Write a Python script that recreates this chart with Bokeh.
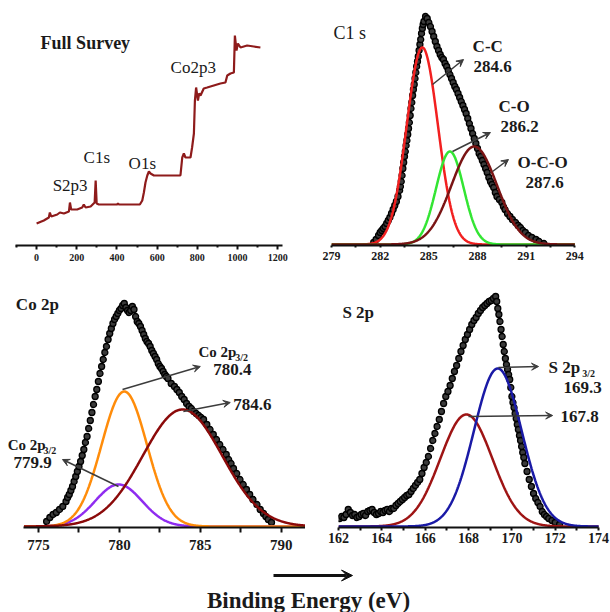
import numpy as np
from bokeh.plotting import figure
from bokeh.layouts import column, row
from bokeh.models import Label, Arrow, VeeHead, FixedTicker
from bokeh.embed import file_html
from bokeh.resources import INLINE

SERIF = "Liberation Serif"

# ---------------- data ----------------
# Full survey (binding energy eV, intensity a.u.)
survey_ev = [0, 12, 36, 61, 66, 73, 103, 116, 136, 161, 166, 172, 202, 227, 235, 244, 269, 289, 294, 299,
             310, 401, 405, 410, 514, 526, 534, 542, 551, 559, 567, 584, 716, 725, 733, 741, 766, 774, 783,
             788, 794, 803, 809, 816, 832, 849, 882, 915, 940, 949, 965, 982, 987, 995, 1002, 1015, 1048,
             1081, 1114]
survey_int = [22, 23, 25, 28, 33, 29, 31, 33, 32, 34, 43, 36, 36, 38, 41, 38, 39, 43, 65, 42,
              41, 41, 42, 41, 41, 45, 53, 63, 70, 74, 72, 70, 70, 88, 92, 88, 88, 98, 112,
              145, 158, 145, 152, 150, 157, 158, 160, 162, 163, 170, 172, 173, 210, 195, 202, 198, 200,
              199, 198]
survey_peak_names = ["S2p3", "C1s", "O1s", "Co2p3"]

# C 1s high resolution
c1s_ev = [281.6, 281.75, 281.9, 282.0, 282.1, 282.2, 282.3, 282.4, 282.5, 282.6, 282.7, 282.8, 282.9, 283.0,
          283.1, 283.2, 283.25, 283.3, 283.35, 283.4, 283.45, 283.5, 283.55, 283.6, 283.65, 283.7, 283.75,
          283.8, 283.85, 283.9, 283.95, 284.0, 284.05, 284.1, 284.15, 284.2, 284.25, 284.3, 284.35, 284.4,
          284.45, 284.5, 284.55, 284.6, 284.65, 284.7, 284.8, 284.9, 285.0, 285.1, 285.2, 285.3, 285.4,
          285.5, 285.6, 285.7, 285.8, 285.9, 286.0, 286.1, 286.2, 286.3, 286.4, 286.5, 286.6, 286.7, 286.8,
          286.9, 287.0, 287.1, 287.2, 287.3, 287.4, 287.5, 287.6, 287.7, 287.8, 287.9, 288.0, 288.1, 288.2,
          288.3, 288.4, 288.5, 288.6, 288.7, 288.8, 288.9, 289.0, 289.1, 289.2, 289.35, 289.5, 289.6,
          289.7, 289.85, 290.0, 290.15, 290.35, 290.5, 290.65, 290.8, 290.95, 291.15, 291.35, 291.6,
          291.8, 292.1]
c1s_int = [2, 5, 9, 12, 14, 16, 18, 21, 24, 27, 31, 35, 39, 43,
           48, 54, 58, 63, 69, 76, 82, 88, 93, 99, 104, 110, 116,
           122, 129, 136, 142, 149, 155, 160, 166, 172, 178, 183, 188, 194,
           200, 205, 211, 216, 220, 223, 228, 226, 222, 218, 213, 208, 203,
           198, 194, 190, 187, 185, 181, 178, 174, 170, 166, 162, 158, 155, 151,
           147, 143, 139, 135, 131, 126, 121, 116, 111, 106, 101, 96, 91, 88,
           84, 80, 76, 72, 67, 63, 60, 57, 52, 48, 45, 42, 38,
           35, 31, 28, 25, 22, 19, 17, 14, 12, 9, 7, 5,
           3, 1]
c1s_labels = ["C-C", "C-O", "O-C-O"]
c1s_centers = [284.6, 286.3, 287.8]
c1s_heights = [197, 93, 98]
c1s_sigmas = [0.96, 0.85, 1.4]
c1s_colors = ["#f22020", "#33e533", "#7a1414"]

# Co 2p high resolution
co_ev = [775.5, 775.7, 775.9, 776.1, 776.3, 776.5, 776.7, 776.8, 776.9, 777.0, 777.1, 777.2, 777.3, 777.4,
         777.5, 777.6, 777.7, 777.8, 777.9, 778.0, 778.1, 778.2, 778.3, 778.4, 778.5, 778.6, 778.7, 778.8,
         778.9, 779.0, 779.1, 779.2, 779.3, 779.4, 779.5, 779.6, 779.7, 779.8, 779.9, 780.0, 780.1, 780.2,
         780.3, 780.4, 780.5, 780.6, 780.7, 780.8, 780.9, 781.0, 781.1, 781.2, 781.3, 781.4, 781.5, 781.6,
         781.7, 781.8, 781.9, 782.0, 782.1, 782.2, 782.3, 782.4, 782.5, 782.6, 782.7, 782.8, 782.9, 783.0,
         783.2, 783.4, 783.55, 783.7, 783.85, 784.0, 784.15, 784.3, 784.45, 784.6, 784.75, 784.9, 785.05,
         785.2, 785.4, 785.6, 785.8, 786.0, 786.2, 786.4, 786.6, 786.75, 786.9, 787.05, 787.25, 787.45,
         787.65, 787.85, 788.05, 788.25, 788.5, 788.7, 788.9, 789.05, 789.2, 789.4]
co_int = [5, 9, 12, 14, 17, 20, 25, 29, 32, 36, 40, 45, 50, 55,
          60, 65, 71, 77, 84, 90, 98, 106, 114, 122, 130, 137, 145, 153,
          160, 167, 174, 180, 187, 193, 198, 203, 207, 210, 213, 216, 218, 221,
          223, 219, 216, 214, 216, 220, 217, 210, 205, 203, 200, 196, 192, 188,
          185, 183, 180, 176, 173, 170, 167, 163, 160, 158, 155, 152, 150, 148,
          143, 140, 137, 134, 130, 127, 123, 120, 118, 115, 113, 111, 109,
          107, 102, 97, 92, 87, 82, 77, 72, 67, 63, 58, 53, 47,
          42, 37, 32, 27, 22, 17, 13, 10, 7, 4]
co_centers = [779.95, 780.3, 783.9]
co_heights = [42, 135, 117]
co_sigmas = [1.45, 1.4, 2.45]
co_colors = ["#8f2cf0", "#ff8c0a", "#8b0a0a"]

# S 2p high resolution
s_ev = [162.05, 162.15, 162.25, 162.35, 162.45, 162.55, 162.65, 162.75, 162.85, 162.95, 163.05, 163.15,
        163.25, 163.35, 163.45, 163.55, 163.65, 163.75, 163.85, 163.95, 164.05, 164.15, 164.25, 164.35,
        164.45, 164.55, 164.65, 164.75, 164.85, 164.95, 165.05, 165.15, 165.25, 165.35, 165.45, 165.55,
        165.65, 165.75, 165.85, 165.95, 166.05, 166.15, 166.25, 166.35, 166.45, 166.55, 166.65, 166.75,
        166.85, 166.95, 167.05, 167.15, 167.25, 167.35, 167.45, 167.55, 167.65, 167.75, 167.85, 167.95,
        168.05, 168.15, 168.25, 168.35, 168.45, 168.55, 168.65, 168.75, 168.85, 168.95, 169.05, 169.15,
        169.25, 169.3, 169.35, 169.4, 169.45, 169.5, 169.55, 169.6, 169.65, 169.7, 169.75, 169.8, 169.85,
        169.9, 169.95, 170.0, 170.05, 170.1, 170.15, 170.2, 170.25, 170.3, 170.35, 170.4, 170.45, 170.5,
        170.55, 170.6, 170.7, 170.8, 170.9, 171.0, 171.1, 171.2, 171.3, 171.4, 171.5, 171.6, 171.7,
        171.85, 172.0, 172.2]
s_int = [8, 10, 9, 12, 17, 14, 11, 12, 9, 10, 12, 13,
         11, 15, 16, 17, 14, 12, 13, 15, 14, 16, 17, 15,
         18, 18, 21, 23, 25, 27, 29, 31, 32, 35, 38, 41,
         44, 47, 53, 59, 64, 70, 78, 86, 93, 100, 107, 115,
         123, 130, 135, 141, 148, 155, 161, 168, 175, 181, 187, 192,
         197, 202, 206, 209, 213, 216, 219, 221, 223, 225, 226, 228,
         230, 225, 218, 212, 205, 197, 190, 182, 175, 168, 162, 157, 152,
         147, 139, 130, 124, 119, 113, 108, 102, 97, 91, 86, 80, 74,
         69, 63, 55, 47, 40, 33, 28, 24, 20, 15, 12, 10, 8,
         6, 4, 2]
s_centers = [167.9, 169.35]
s_heights = [112, 158]
s_sigmas = [1.2, 1.1]
s_colors = ["#9e1414", "#1a1aa6"]


# ---------------- helpers ----------------
def gauss(x, c, a, s):
    return a * np.exp(-(x - c) ** 2 / (2.0 * s ** 2))


def make_fig(w, h, xr, yr, left, right, bottom, majors, minors, lab_size,
             tick_out, minor_out, standoff, bounds="auto"):
    p = figure(width=w, height=h, x_range=xr, y_range=yr, output_backend="svg",
               toolbar_location=None, y_axis_location=None, title=None,
               min_border_left=left, min_border_right=right, min_border_top=0,
               min_border_bottom=bottom)
    p.grid.visible = False
    p.outline_line_color = None
    p.background_fill_color = "white"
    p.border_fill_color = "white"
    ax = p.xaxis[0]
    ax.bounds = bounds
    ax.ticker = FixedTicker(ticks=majors, minor_ticks=minors)
    ax.axis_line_width = 2
    ax.axis_line_color = "#111111"
    ax.major_tick_line_width = 2
    ax.minor_tick_line_width = 2
    ax.major_tick_line_color = "#111111"
    ax.minor_tick_line_color = "#111111"
    ax.major_tick_in = 0
    ax.major_tick_out = tick_out
    ax.minor_tick_in = 0
    ax.minor_tick_out = minor_out
    ax.major_label_standoff = standoff
    ax.major_label_text_font = SERIF
    ax.major_label_text_font_style = "bold"
    ax.major_label_text_font_size = f"{lab_size}px"
    ax.major_label_text_color = "#1a1a1a"
    return p


def lab(p, x, y, text, size=16, bold=True, align="left"):
    p.add_layout(Label(x=x, y=y, text=text, text_font=SERIF,
                       text_font_size=f"{size}px",
                       text_font_style="bold" if bold else "normal",
                       text_align=align, text_baseline="middle", text_color="#1a1a1a"))


def arr(p, x0, y0, x1, y1, color="#3c3c3c", width=1.5, size=7):
    p.add_layout(Arrow(x_start=x0, y_start=y0, x_end=x1, y_end=y1,
                       line_color=color, line_width=width,
                       end=VeeHead(size=size, fill_color=color, line_color=color, line_width=1)))


def dots(p, xs, ys):
    p.scatter(xs, ys, marker="circle", size=6, fill_color="#3a3a3a",
              line_color="#000000", line_width=1.3)


# ---------------- panel 1 : full survey ----------------
p1 = make_fig(305, 280, (-105, 1224), (0, 245), 15, 23, 35,
              [0, 200, 400, 600, 800, 1000, 1200],
              [-100, 100, 300, 500, 700, 900, 1100], 10, 4, 2, 4)
p1.line(survey_ev, survey_int, line_color="#8e1b1b", line_width=2.2)
lab(p1, 20, 203, "Full Survey", 18, True)
lab(p1, 80, 60, survey_peak_names[0], 17, False)
lab(p1, 234, 88, survey_peak_names[1], 17, False)
lab(p1, 458, 82, survey_peak_names[2], 17, False)
lab(p1, 667, 178, survey_peak_names[3], 17, False)

# ---------------- panel 2 : C 1s ----------------
p2 = make_fig(305, 280, (279, 296.2), (-1, 244), 26, 0, 35,
              [279, 282, 285, 288, 291, 294],
              [280.5, 283.5, 286.5, 289.5, 292.5], 12, 2, 2, 4,
              bounds=(279, 294))
dots(p2, c1s_ev, c1s_int)
xg = np.linspace(279, 294, 600)
for c, a, s, col in zip(c1s_centers, c1s_heights, c1s_sigmas, c1s_colors):
    p2.line(xg, gauss(xg, c, a, s), line_color=col, line_width=2.5)
lab(p2, 279.12, 212, "C1 s", 18, False)
lab(p2, 287.7, 198, c1s_labels[0], 17)
lab(p2, 287.75, 178, "284.6", 17)
lab(p2, 289.3, 138, c1s_labels[1], 17)
lab(p2, 289.42, 118, "286.2", 17)
lab(p2, 290.47, 82, c1s_labels[2], 17)
lab(p2, 290.96, 62, "287.6", 17)
arr(p2, 285.23, 160, 287.14, 185)
arr(p2, 286.46, 93, 288.8, 112)
arr(p2, 288.93, 73, 289.91, 85)

# ---------------- panel 3 : Co 2p ----------------
p3 = make_fig(305, 280, (772.65, 791.5), (-1, 246), 0, 0, 33,
              [775, 780, 785, 790], [777.5, 782.5, 787.5], 15, 5, 5, 7,
              bounds=(774.1, 791.5))
dots(p3, co_ev, co_int)
xc = np.linspace(774.1, 791.5, 600)
for c, a, s, col in zip(co_centers, co_heights, co_sigmas, co_colors):
    p3.line(xc, gauss(xc, c, a, s), line_color=col, line_width=2.5)
lab(p3, 773.6, 222, "Co 2p", 17, True)
lab(p3, 784.88, 175, "Co 2p", 15, True)
lab(p3, 787.16, 169, "3/2", 10, True)
lab(p3, 785.8, 157, "780.4", 17)
lab(p3, 787.04, 122, "784.6", 17)
lab(p3, 773.1, 82, "Co 2p", 15, True)
lab(p3, 775.31, 76, "3/2", 10, True)
lab(p3, 773.46, 64, "779.9", 17)
arr(p3, 780.19, 137, 785.0, 160)
arr(p3, 783.95, 115, 786.85, 124)
arr(p3, 779.94, 40, 776.48, 67)

# ---------------- panel 4 : S 2p ----------------
p4 = make_fig(305, 280, (162, 174.55), (-1, 246), 33, 0, 33,
              [162, 164, 166, 168, 170, 172, 174],
              [163, 165, 167, 169, 171, 173], 14, 3, 3, 2,
              bounds=(162, 174))
dots(p4, s_ev, s_int)
xs_ = np.linspace(162, 174, 600)
for c, a, s, col in zip(s_centers, s_heights, s_sigmas, s_colors):
    p4.line(xs_, gauss(xs_, c, a, s), line_color=col, line_width=2.5)
lab(p4, 162.18, 214, "S 2p", 17, True)
lab(p4, 171.69, 159, "S 2p", 17, True)
lab(p4, 173.25, 153, "3/2", 10, True)
lab(p4, 172.38, 139, "169.3", 17)
lab(p4, 172.24, 110, "167.8", 17)
arr(p4, 169.38, 159, 171.23, 160)
arr(p4, 168.0, 110, 171.88, 111)

# ---------------- common x label ----------------
p5 = figure(width=610, height=52, x_range=(0, 610), y_range=(0, 52), output_backend="svg",
            toolbar_location=None, x_axis_location=None, y_axis_location=None, title=None,
            min_border_left=0, min_border_right=0, min_border_top=0, min_border_bottom=0)
p5.grid.visible = False
p5.outline_line_color = None
p5.add_layout(Arrow(x_start=273, y_start=37, x_end=352, y_end=37, line_color="#111111",
                    line_width=3, end=VeeHead(size=11, fill_color="#111111",
                                              line_color="#111111")))
p5.add_layout(Label(x=308, y=12, text="Binding Energy (eV)", text_font=SERIF,
                    text_font_size="23px", text_font_style="bold", text_align="center",
                    text_baseline="middle", text_color="#1a1a1a"))

layout = column(row(p1, p2), row(p3, p4), p5)
open("out.html", "w").write(file_html(layout, INLINE))
